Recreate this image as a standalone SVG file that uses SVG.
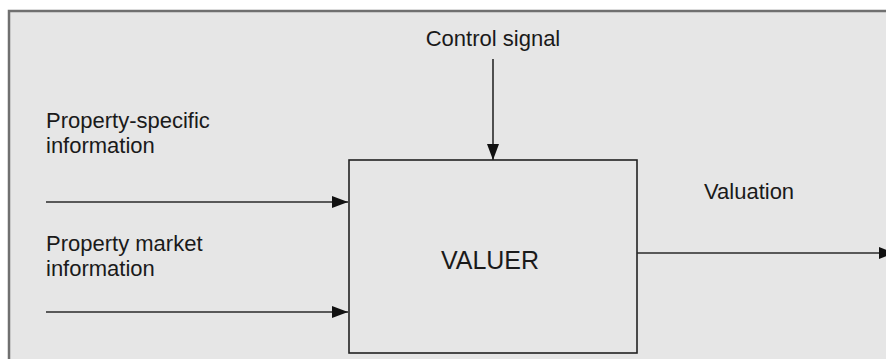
<svg xmlns="http://www.w3.org/2000/svg" width="886" height="359" viewBox="0 0 886 359">
  <defs>
    <marker id="arrow" viewBox="0 0 16 12" refX="16" refY="6" markerWidth="16" markerHeight="12" markerUnits="userSpaceOnUse" orient="auto">
      <path d="M0,0 L16,6 L0,12 z" fill="#111"/>
    </marker>
  </defs>
  <style>
    .lbl { font-family: "Liberation Sans", Arial, sans-serif; font-size: 22px; fill: #1a1a1a; }
    .node-text { font-family: "Liberation Sans", Arial, sans-serif; font-size: 25px; fill: #1a1a1a; }
    .conn { stroke: #2a2a2a; stroke-width: 1.6; fill: none; marker-end: url(#arrow); }
  </style>
  <rect x="0" y="0" width="886" height="359" fill="#ffffff"/>
  <rect id="frame" x="9" y="11" width="900" height="370" fill="#e6e6e6" stroke="#707070" stroke-width="2.5"/>

  <g id="valuer">
    <rect x="349" y="160" width="288" height="193" fill="#e6e6e6" stroke="#222" stroke-width="1.6"/>
    <text class="node-text" x="490" y="269" text-anchor="middle">VALUER</text>
  </g>

  <g id="labels">
    <text class="lbl" x="493" y="46" text-anchor="middle">Control signal</text>
    <text class="lbl" x="46" y="128">Property-specific</text>
    <text class="lbl" x="46" y="153">information</text>
    <text class="lbl" x="46" y="251">Property market</text>
    <text class="lbl" x="46" y="276">information</text>
    <text class="lbl" x="704" y="199">Valuation</text>
  </g>

  <g id="connectors">
    <line class="conn" x1="493" y1="59" x2="493" y2="160"/>
    <line class="conn" x1="46" y1="202" x2="348" y2="202"/>
    <line class="conn" x1="46" y1="312" x2="348" y2="312"/>
    <line class="conn" x1="637" y1="253" x2="895" y2="253"/>
  </g>
</svg>
